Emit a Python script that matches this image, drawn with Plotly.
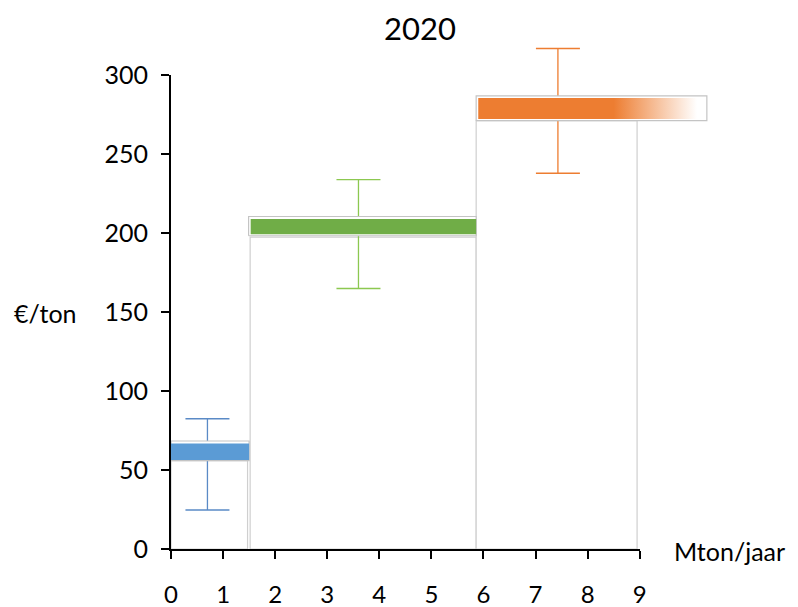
import plotly.graph_objects as go

# ---------------- data ----------------
title_text = "2020"
y_label = "€/ton"
x_label = "Mton/jaar"
x_ticks = [0, 1, 2, 3, 4, 5, 6, 7, 8, 9]
y_ticks = [0, 50, 100, 150, 200, 250, 300]

# column (step) rectangles below each bar
col_start = [0.0, 1.52, 5.86]
col_end = [1.47, 5.86, 8.95]
col_top = [56.0, 197.6, 271.3]

# outline box around each bar
box_start = [0.0, 1.49, 5.86]
box_end = [1.50, 5.86, 10.29]
box_low = [56.0, 198.4, 271.3]
box_high = [68.4, 210.6, 287.0]

# coloured cost bars
bar_start = [0.0, 1.53, 5.90]
bar_end = [1.50, 5.86, 10.10]
bar_low = [56.3, 199.4, 272.3]
bar_high = [66.9, 209.0, 285.6]
fade_start = [None, None, 8.5]

# cost and uncertainty range
cost = [62, 204, 279]
err_x = [0.70, 3.60, 7.43]
err_low = [24.7, 165, 238]
err_high = [82.5, 234, 317]

bar_colors = ["#5B9BD5", "#70AD47", "#ED7D31"]
err_colors = ["#5A8AC6", "#8CC850", "#ED7D31"]

X_MAX = 10.6   # drawing range (wider than visible axis)
Y_MAX = 330
FONT = "Lato"

fig = go.Figure()

# error bars (drawn first, covered by boxes/bars)
for i in range(len(cost)):
    fig.add_trace(go.Scatter(
        x=[err_x[i]], y=[cost[i]], mode="markers",
        marker=dict(size=1, opacity=0),
        error_y=dict(type="data", symmetric=False,
                     array=[err_high[i] - cost[i]],
                     arrayminus=[cost[i] - err_low[i]],
                     color=err_colors[i], thickness=1.3, width=22),
        hoverinfo="skip", showlegend=False))

# outline boxes
for i in range(len(cost)):
    fig.add_trace(go.Scatter(
        x=[box_start[i], box_end[i], box_end[i], box_start[i], box_start[i]],
        y=[box_low[i], box_low[i], box_high[i], box_high[i], box_low[i]],
        mode="lines", fill="toself", fillcolor="white",
        line=dict(color="#c4c4c4", width=1.2),
        hoverinfo="skip", showlegend=False))

# coloured bars
for i in range(len(cost)):
    kw = dict(fillcolor=bar_colors[i])
    if fade_start[i] is not None:
        frac = (fade_start[i] - bar_start[i]) / (bar_end[i] - bar_start[i])
        kw = dict(fillgradient=dict(
            type="horizontal", start=bar_start[i], stop=bar_end[i],
            colorscale=[[0, bar_colors[i]], [frac, bar_colors[i]],
                        [1, "rgba(255,255,255,1)"]]))
    fig.add_trace(go.Scatter(
        x=[bar_start[i], bar_end[i], bar_end[i], bar_start[i], bar_start[i]],
        y=[bar_low[i], bar_low[i], bar_high[i], bar_high[i], bar_low[i]],
        mode="lines", fill="toself", line=dict(width=0, color=bar_colors[i]),
        hoverinfo="skip", showlegend=False, **kw))

# column rectangles
for i in range(len(cost)):
    fig.add_shape(type="rect", xref="x", yref="y",
                  x0=col_start[i], x1=col_end[i], y0=0, y1=col_top[i],
                  line=dict(color="#cfcfcf", width=1.2),
                  fillcolor="white", layer="below")

# dummy trace for visible axes
fig.add_trace(go.Scatter(x=[0], y=[0], xaxis="x2", yaxis="y2", mode="markers",
                         marker=dict(opacity=0), hoverinfo="skip",
                         showlegend=False))

axis_common = dict(showline=True, linecolor="black", linewidth=2,
                   ticks="outside", ticklen=8, tickwidth=2, tickcolor="black",
                   showgrid=False, zeroline=False, automargin=False)

# page has an 8px body margin: figure is 790x599 placed at (8, 8)
fig.update_layout(
    width=790, height=599,
    margin=dict(l=163, r=75, t=20, b=58, autoexpand=False),
    paper_bgcolor="white", plot_bgcolor="rgba(0,0,0,0)",
    showlegend=False,
    title=dict(text=title_text, x=(420 - 8) / 790, xref="container",
               xanchor="center", y=1 - 21 / 599, yref="container",
               yanchor="middle",
               font=dict(family=FONT, size=31, color="black")),
    xaxis=dict(range=[0, X_MAX], domain=[0, 1], visible=False,
               fixedrange=True, automargin=False),
    yaxis=dict(range=[0, Y_MAX], domain=[0, 1], visible=False,
               fixedrange=True, automargin=False),
    xaxis2=dict(range=[0, 9], domain=[0, 9 / X_MAX], anchor="y2",
                tickvals=x_ticks, ticklabelstandoff=15,
                tickfont=dict(family=FONT, size=24, color="black"),
                **axis_common),
    yaxis2=dict(range=[0, 300], domain=[0, 300 / Y_MAX], anchor="x2",
                tickvals=y_ticks, ticklabelstandoff=8,
                tickfont=dict(family=FONT, size=25, color="black"),
                **axis_common),
    annotations=[
        dict(text=y_label, xref="paper", yref="paper",
             x=(12 - 171) / 552, y=(549 - 313) / 521, xanchor="left",
             yanchor="middle", showarrow=False,
             font=dict(family=FONT, size=25, color="black")),
        dict(text=x_label, xref="paper", yref="paper",
             x=(672 - 171) / 552, y=(549 - 551) / 521, xanchor="left",
             yanchor="middle", showarrow=False,
             font=dict(family=FONT, size=25, color="black")),
    ],
)

fig.write_html("out.html")
